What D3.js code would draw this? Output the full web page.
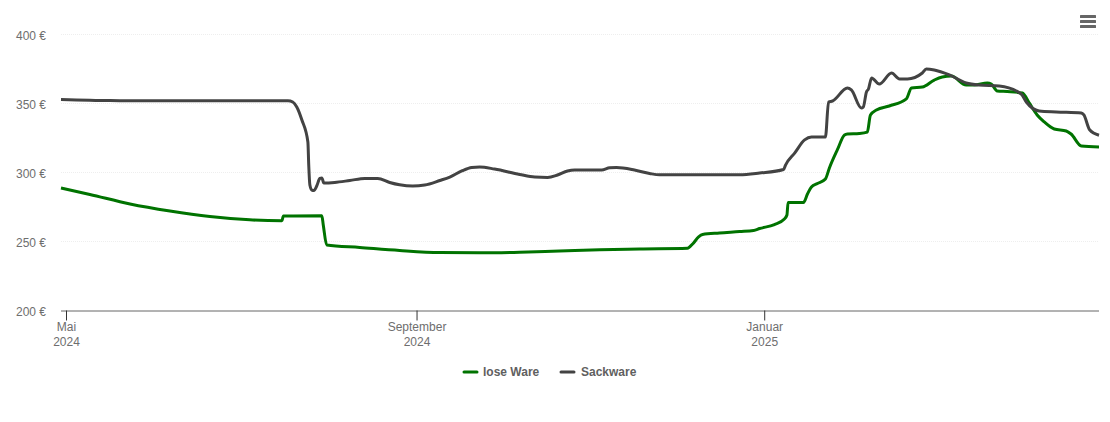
<!DOCTYPE html>
<html><head><meta charset="utf-8">
<script src="https://cdn.jsdelivr.net/npm/d3@7/dist/d3.min.js"></script>
<style>html,body{margin:0;padding:0;background:#fff}svg{display:block}text{font-family:"Liberation Sans",Arial,sans-serif}</style>
</head><body><svg id="c" width="1110" height="422"></svg>
<script>
// days since 2024-05-01 and price in EUR
const loseDays=[-1.93,8.2,22.3,36.3,50.3,64.3,75.6,76.1,89.6,90.1,91.3,102.9,116.9,131,145,159,173,187.1,201.1,217.9,219.7,221.8,223.2,229.1,236.2,241.1,243.2,248.4,251.9,252.8,253.2,258.6,260,261.4,263.5,266.3,267.7,270.5,273,274,278.2,281,282.1,284.2,288.7,294.7,296.5,300.3,304.5,307.3,310.5,315.7,318.5,323.1,324.5,326.6,330.1,335.4,337.8,340.6,343.1,346.6,350.8,352.5,356.1,362.3];
const loseVals=[288.8,284.1,277.2,272.1,268.1,265.7,265.1,268.5,268.6,262,247.5,245.7,243.5,242,241.8,242.2,243.1,244,244.6,245.1,248.2,253.3,255.1,256.2,257.2,258,259.4,262.3,266.3,269.2,278.3,278.3,284.4,289.5,292,295.3,303.3,316.5,327.2,327.9,328.3,329.3,341.7,345.3,348.2,353.3,361.2,361.9,367,369.2,369.9,363.4,363.4,364.9,364.1,359.1,358.7,357.6,350.4,341.7,336.6,331.5,330.1,327.9,319.2,318.5];
const sackDays=[-1.93,15.3,29.3,77.7,79.4,80.8,82.6,84.7,85,85.4,86.1,86.8,87.8,88.9,89.6,90.3,94.1,99.4,104.7,109.2,113.4,116.9,121.5,125.7,131,134.5,138.7,142.2,145,150.2,159,164.3,168.8,172.3,175.8,178.3,187.8,190.6,193,199.3,204.6,208.1,222.1,236.2,243.2,251.6,252.3,255.5,259,261.4,266.3,267.4,268.8,274,275.4,278.9,279.6,280.7,281.4,282.5,285.2,289.5,292.3,295.1,300.3,301.7,304.5,309.8,315.7,320.2,327.3,335,336.8,341.3,347.3,356.1,357,359,362.3];
const sackVals=[352.9,352.1,352,352,351.1,347.5,338,322.1,305.4,290.9,287.3,287,290.2,295.7,296,292.4,292.8,294.2,295.7,295.7,292.8,291.1,290.2,290.9,294.2,296.7,301.1,303.6,304,302.5,298.6,296.7,296.4,298.2,301.1,301.8,301.8,303.4,303.6,301.8,299.3,298.3,298.3,298.3,299.6,302.2,305.4,314.1,323.6,325.7,325.7,351.1,351.8,361.2,359.8,346.7,347.5,358.4,360.5,368.5,364.1,372.1,367.8,367.8,372.1,375,374.3,370.7,364.9,363.4,362.7,356.9,351.1,344.6,343.9,343.2,341.7,331,327];
const yTicks=[200,250,300,350,400];
const xTicks=[0,123,245];
const xLabels=[["Mai","2024"],["September","2024"],["Januar","2025"]];
const seriesNames=["lose Ware","Sackware"];
const seriesColors=["#007300","#434343"];

const svg=d3.select("#c");
const x=d3.scaleLinear().domain([-1.93,362.3]).range([61,1099]);
const y=d3.scaleLinear().domain([200,400]).range([310.5,34.5]);
const txt="#6e6e6e";

// grid
svg.append("g").selectAll("line").data(yTicks.slice(1)).join("line")
 .attr("x1",61).attr("x2",1099).attr("y1",d=>y(d)).attr("y2",d=>y(d))
 .attr("stroke","#eeeeee").attr("stroke-dasharray","1,1");

// y axis
const gy=svg.append("g").attr("transform","translate(46,0)")
 .call(d3.axisLeft(y).tickValues(yTicks).tickSize(0).tickPadding(0).tickFormat(d=>d+" €"));
gy.select(".domain").remove();
gy.selectAll("text").attr("fill",txt).attr("font-size",12).attr("font-family",'"Liberation Sans"').attr("x",0).attr("dy","0.35em")
 .attr("transform","translate(0,0.5)");

// x axis
const gx=svg.append("g").attr("transform","translate(0,310.5)")
 .call(d3.axisBottom(x).offset(0).tickValues(xTicks).tickSize(10).tickSizeOuter(0).tickFormat(""));
gx.select(".domain").attr("stroke","#666666").attr("d","M61,0.5H1099");
gx.selectAll(".tick line").attr("stroke","#333333");
gx.selectAll(".tick text").each(function(d,i){
  const t=d3.select(this).attr("fill",txt).attr("font-size",12).attr("font-family",'"Liberation Sans"').attr("text-anchor","middle").attr("y",0).attr("dy",null);
  xLabels[i].forEach((s,j)=>t.append("tspan").attr("x",0).attr("y",20+j*15).text(s));
});

// lines
const line=d3.line().x(d=>x(d[0])).y(d=>y(d[1])).curve(d3.curveMonotoneX);
[[loseDays,loseVals],[sackDays,sackVals]].forEach((s,i)=>{
  svg.append("path").attr("d",line(d3.zip(s[0],s[1]))).attr("fill","none")
   .attr("stroke",seriesColors[i]).attr("stroke-width",3).attr("stroke-linejoin","round").attr("stroke-linecap","butt");
});

// legend
const lx=[463,560];
const lt=[483,581];
seriesNames.forEach((n,i)=>{
  const g=svg.append("g").attr("transform","translate(0,372)");
  g.append("line").attr("x1",lx[i]+1).attr("x2",lx[i]+14).attr("y1",0).attr("y2",0).attr("stroke",seriesColors[i]).attr("stroke-width",3).attr("stroke-linecap","round");
  g.append("text").attr("x",lt[i]).attr("y",4).attr("font-size",12).attr("font-weight","bold").attr("fill","#606060").text(n);
});

// menu icon
svg.append("g").selectAll("rect").data([15,20,25]).join("rect")
 .attr("x",1080).attr("y",d=>d).attr("width",16).attr("height",3).attr("rx",0.5).attr("fill","#666666");
</script></body></html>
